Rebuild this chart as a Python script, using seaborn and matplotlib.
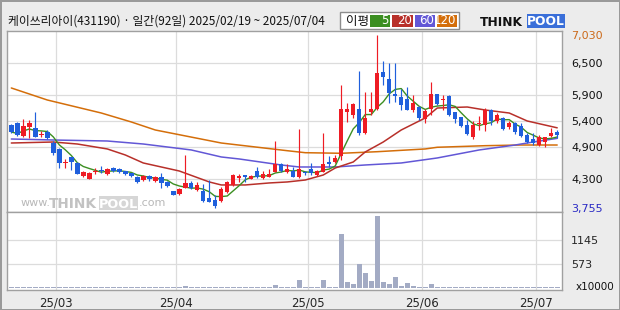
import numpy as np
import pandas as pd
import matplotlib
matplotlib.use("Agg")
import matplotlib.pyplot as plt
from matplotlib.patches import Rectangle
import seaborn as sns

# ---------------- data ----------------
TITLE = "케이쓰리아이(431190) · 일간(92일) 2025/02/19 ~ 2025/07/04"
HOLIDAYS = ["2025-03-03", "2025-05-01", "2025-05-05", "2025-05-06", "2025-06-03", "2025-06-06"]

open_ = [5324, 5362, 5115, 5286, 5267, 5140, 5191, 4982, 4869, 4610,
         4717, 4603, 4356, 4299, 4440, 4460, 4394, 4508, 4489, 4451,
         4413, 4337, 4280, 4356, 4262, 4337, 4243, 4072, 4015, 4129,
         4224, 4091, 4072, 3939, 3901, 3882, 4053, 4186, 4318, 4375,
         4299, 4451, 4318, 4337, 4432, 4584, 4432, 4451, 4337, 4420,
         4489, 4375, 4432, 4622, 4622, 4736, 5576, 5514, 5627, 5178,
         5576, 5620, 6324, 6196, 5912, 5849, 5817, 5608, 5665, 5438,
         5627, 5912, 5790, 5874, 5576, 5470, 5324, 5090, 5335, 5324,
         5608, 5406, 5451, 5292, 5356, 5305, 5134, 5053, 4944, 5007,
         5115, 5185]
high = [5343, 5380, 5438, 5419, 5576, 5210, 5229, 5020, 4888, 4680,
        4717, 4622, 4451, 4432, 4508, 4546, 4500, 4520, 4500, 4460,
        4420, 4350, 4370, 4375, 4350, 4413, 4262, 4080, 4120, 4760,
        4262, 4243, 4200, 4280, 3996, 4148, 4262, 4394, 4394, 4375,
        4380, 4527, 4451, 4489, 5020, 4600, 4584, 4527, 5248, 4451,
        4600, 4470, 5172, 4736, 4750, 6083, 5747, 5747, 6348, 5955,
        5955, 7030, 6538, 6494, 6494, 6001, 6050, 5893, 5680, 5627,
        6145, 5912, 5893, 5893, 5576, 5470, 5419, 5400, 5495, 5640,
        5627, 5557, 5470, 5406, 5387, 5356, 5166, 5166, 5134, 5102,
        5261, 5229]
low = [5172, 5115, 5096, 5077, 5090, 5096, 5060, 4755, 4508, 4508,
       4470, 4394, 4337, 4290, 4394, 4413, 4380, 4440, 4420, 4380,
       4340, 4230, 4260, 4262, 4250, 4129, 4148, 3990, 4000, 4120,
       4110, 4070, 3863, 3863, 3755, 3870, 4030, 4170, 4237, 4243,
       4290, 4320, 4299, 4337, 4432, 4432, 4420, 4337, 4318, 4370,
       4375, 4360, 4432, 4527, 4600, 4660, 5386, 5450, 5134, 5147,
       5514, 5608, 6083, 5747, 5766, 5608, 5608, 5576, 5420, 5370,
       5514, 5703, 5608, 5495, 5367, 5292, 5134, 5053, 5229, 5216,
       5324, 5356, 5229, 5248, 5153, 5090, 4977, 4944, 4926, 4912,
       5102, 5071]
close = [5191, 5134, 5305, 5362, 5096, 5160, 5077, 4793, 4603, 4630,
         4622, 4394, 4432, 4413, 4455, 4445, 4489, 4451, 4432, 4394,
         4356, 4243, 4356, 4299, 4337, 4224, 4167, 3996, 4110, 4224,
         4129, 4186, 3882, 3863, 3787, 4110, 4243, 4375, 4356, 4337,
         4356, 4337, 4394, 4394, 4584, 4451, 4489, 4337, 4489, 4405,
         4413, 4451, 4584, 4584, 4698, 5620, 5627, 5722, 5178, 5462,
         5620, 6316, 6240, 5937, 5880, 5703, 5608, 5747, 5447, 5589,
         5912, 5722, 5798, 5514, 5432, 5305, 5153, 5324, 5343, 5608,
         5406, 5514, 5242, 5356, 5185, 5115, 5007, 4988, 5090, 5102,
         5166, 5134]
# volume in units of 10,000 shares
volume = [20, 22, 20, 18, 24, 20, 18, 22, 25, 20,
          20, 18, 16, 18, 16, 15, 16, 15, 16, 15,
          15, 18, 16, 15, 16, 20, 18, 22, 20, 55,
          20, 18, 22, 18, 25, 22, 20, 18, 16, 15,
          15, 16, 15, 18, 79, 20, 18, 20, 198, 18,
          20, 18, 198, 25, 22, 1288, 150, 87, 561, 363,
          174, 1714, 150, 87, 269, 55, 110, 55, 32, 22,
          87, 32, 32, 22, 20, 20, 22, 32, 22, 32,
          20, 20, 18, 20, 22, 20, 18, 20, 18, 20,
          20, 18]

# moving-average lines (day index, price)
ma20_idx = [0, 7, 11, 16, 19, 22, 28, 33, 35, 39, 43, 46, 49, 52, 54, 57, 59, 62, 65, 69, 71, 76, 79, 83, 86, 91]
ma20_val = [4982, 5001, 4963, 4869, 4755, 4603, 4451, 4243, 4186, 4186, 4224, 4243, 4280, 4375, 4508, 4622,
            4812, 5001, 5229, 5457, 5646, 5665, 5608, 5551, 5400, 5270]
ma60_idx = [0, 7, 16, 22, 30, 35, 38, 45, 48, 54, 59, 65, 71, 78, 84, 87, 91]
ma60_val = [5058, 5039, 5020, 4963, 4850, 4717, 4679, 4565, 4527, 4527, 4565, 4603, 4698, 4850, 4944, 5001, 5070]
ma120_idx = [0, 6, 15, 20, 24, 35, 46, 49, 55, 61, 69, 71, 79, 85, 91]
ma120_val = [6026, 5798, 5551, 5381, 5229, 4982, 4836, 4798, 4787, 4817, 4869, 4901, 4931, 4944, 4944]

price_ticks = [7030, 6500, 5900, 5400, 4900, 4300, 3755]
vol_ticks = [1145, 573]
month_labels = ["25/03", "25/04", "25/05", "25/06", "25/07"]
ma_labels = ["5", "20", "60", "120"]

# ---------------- style ----------------
RED, BLUE = "#EE1C24", "#1F5FDC"
C_MA5, C_MA20, C_MA60, C_MA120 = "#3C8F22", "#B8302A", "#6257D6", "#D46E0A"
VOLC = "#A3ABC4"
GRID = "#DCDCDC"
SPINE = "#A0A0A0"
BG = "#ECECEC"

sns.set_style("white")
plt.rcParams["font.family"] = ["DejaVu Sans", "Noto Sans CJK KR"]

W, H = 620, 310
def fx(x):
    return x / W
def fy(y):
    return 1 - y / H

dates = pd.bdate_range("2025-02-19", "2025-07-04")
dates = dates[~dates.isin(pd.to_datetime(HOLIDAYS))]
df = pd.DataFrame({"date": dates, "open": open_, "high": high, "low": low,
                   "close": close, "volume": volume})
df["idx"] = np.arange(len(df))
df["ma5"] = df["close"].rolling(5, min_periods=1).mean()
month_idx = df.groupby(df["date"].dt.to_period("M"))["idx"].min().values[1:]

fig = plt.figure(figsize=(6.2, 3.1), dpi=100, facecolor=BG)
fig.patch.set_edgecolor("#9A9A9A")
fig.patch.set_linewidth(2)

ax = fig.add_axes([fx(7), fy(212), fx(562) - fx(7), fy(31) - fy(212)])
axv = fig.add_axes([fx(7), fy(290), fx(562) - fx(7), fy(212) - fy(290)])
for a in (ax, axv):
    a.set_facecolor("white")
    for s in a.spines.values():
        s.set_color(SPINE)
        s.set_linewidth(1)
    a.set_xlim(-0.72, 91.8)
    for m in month_idx:
        a.axvline(m - 0.5, color=GRID, lw=0.9, zorder=0)

# price panel
ax.set_ylim(3673, 7107)
for v in price_ticks[1:-1]:
    ax.axhline(v, color=GRID, lw=0.9, zorder=0)

sns.lineplot(x=ma120_idx, y=ma120_val, ax=ax, color=C_MA120, lw=1.1, zorder=2)
sns.lineplot(x=ma60_idx, y=ma60_val, ax=ax, color=C_MA60, lw=1.1, zorder=2)
sns.lineplot(x=ma20_idx, y=ma20_val, ax=ax, color=C_MA20, lw=1.1, zorder=2)
sns.lineplot(data=df, x="idx", y="ma5", ax=ax, color=C_MA5, lw=1.0, zorder=2)

up = df["close"] >= df["open"]
col = np.where(up, RED, BLUE)
ax.vlines(df["idx"], df["low"], df["high"], colors=col, linewidth=0.85, zorder=3)
bottom = np.minimum(df["open"], df["close"])
height = np.maximum((df["close"] - df["open"]).abs(), 18)
ax.bar(df["idx"], height, bottom=bottom, width=0.74, color=col, linewidth=0, zorder=4)

ax.set_yticks(price_ticks)
ax.set_yticklabels([f"{v:,}" for v in price_ticks])
ax.yaxis.tick_right()
ax.tick_params(axis="y", length=0, pad=6.5, labelsize=8)
ax.set_xticks([])
ax.set_xlabel("")
ax.set_ylabel("")
tick_colors = ["#CC6A1A"] + ["#111111"] * (len(price_ticks) - 2) + ["#2A2AC4"]
for lbl, c in zip(ax.get_yticklabels(), tick_colors):
    lbl.set_color(c)

# volume panel
sns.barplot(x=df["idx"], y=df["volume"], native_scale=True, color=VOLC, saturation=1,
            width=0.8, ax=axv, linewidth=0, zorder=3)
axv.set_xlim(-0.72, 91.8)
axv.set_ylim(-48, 1809)
for v in vol_ticks:
    axv.axhline(v, color=GRID, lw=0.9, zorder=0)
axv.set_yticks(vol_ticks)
axv.set_yticklabels([str(v) for v in vol_ticks])
axv.yaxis.tick_right()
axv.tick_params(axis="y", length=0, pad=6.5, labelsize=8)
axv.set_xticks([m - 0.5 for m in month_idx])
axv.set_xticklabels(month_labels)
axv.tick_params(axis="x", length=0, pad=5, labelsize=8.5)
axv.set_xlabel("")
axv.set_ylabel("")
fig.text(fx(576), fy(287), "x10000", fontsize=7.5, ha="left", va="center", color="#111111")

# title
fig.text(fx(8), fy(21), TITLE, fontsize=8.5, ha="left", va="center",
         family=["Noto Sans CJK KR", "DejaVu Sans"], color="#111111")

# MA legend box
fig.add_artist(Rectangle((fx(340), fy(29)), fx(459) - fx(340), fy(12) - fy(29),
                         transform=fig.transFigure, facecolor="white", edgecolor="#8C8C8C", lw=1))
fig.text(fx(346), fy(21), "이평", fontsize=9, ha="left", va="center",
         family=["Noto Sans CJK KR", "DejaVu Sans"], color="#111111")
boxes = [(370, 390), (392, 413), (415, 435), (437, 457)]
for (x0, x1), lab, c in zip(boxes, ma_labels, [C_MA5, C_MA20, C_MA60, C_MA120]):
    fig.add_artist(Rectangle((fx(x0), fy(27)), fx(x1) - fx(x0), fy(15) - fy(27),
                             transform=fig.transFigure, facecolor=c, edgecolor="none"))
    fig.text(fx(x1 - 1), fy(21), lab, fontsize=8.5, ha="right", va="center", color="white")

# ThinkPool logo
fig.text(fx(480), fy(22), "THINK", fontsize=8.8, fontweight="bold", ha="left", va="center", color="#111111")
fig.add_artist(Rectangle((fx(527), fy(28)), fx(565) - fx(527), fy(14) - fy(28),
                         transform=fig.transFigure, facecolor="#3A6FD9", edgecolor="none"))
fig.text(fx(546), fy(21.5), "POOL", fontsize=8.8, fontweight="bold", ha="center", va="center", color="white")

# watermark
fig.text(fx(21), fy(206), "www.", fontsize=8, ha="left", va="baseline", color="#B8B8B8")
fig.text(fx(49), fy(208), "THINK", fontsize=9.8, fontweight="bold", ha="left", va="baseline", color="#C2C2C2")
fig.add_artist(Rectangle((fx(99), fy(210)), fx(138) - fx(99), fy(196) - fy(210),
                         transform=fig.transFigure, facecolor="#D6D6D6", edgecolor="none"))
fig.text(fx(118.5), fy(208), "POOL", fontsize=9.3, fontweight="bold", ha="center", va="baseline", color="white")
fig.text(fx(139), fy(206), ".com", fontsize=8, ha="left", va="baseline", color="#B8B8B8")

fig.savefig("out.png", dpi=100, facecolor=BG)
